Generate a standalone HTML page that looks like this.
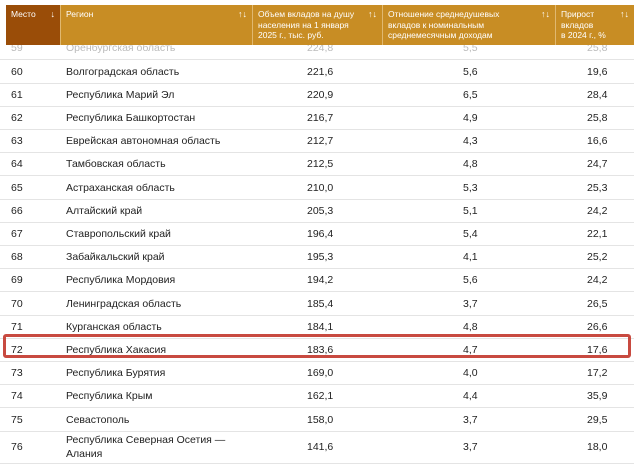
<!DOCTYPE html>
<html><head><meta charset="utf-8"><style>
body{margin:0;width:634px;height:460px;overflow:hidden;background:#fff;font-family:"Liberation Sans",sans-serif;position:relative}
.hdr{position:absolute;top:5px;left:6px;width:628px;height:40px;background:#c88d24;z-index:2}
.hc{position:absolute;top:0;height:40px;color:#fff;font-size:8.5px;line-height:10.5px;padding:4px 0 0 5px;box-sizing:border-box;border-left:1px solid #e0b870}
.hc .ar{position:absolute;right:5px;top:4px;font-size:9px}
.row{position:absolute;left:0;width:634px;height:23.2px;border-bottom:1px solid #e4e4e4;font-size:10.5px;color:#222;box-sizing:border-box}
.row span{position:absolute;top:50%;transform:translateY(-50%)}
.hl{position:absolute;left:3px;top:334px;width:628px;height:24px;border:3px solid #c84a40;border-radius:3px;box-sizing:border-box;z-index:3}
</style></head><body>
<div class="hdr">
 <div class="hc" style="left:0;width:54px;background:#9a4d08;border-left:none">Место<span class="ar">↓</span></div>
 <div class="hc" style="left:54px;width:192px">Регион<span class="ar">↑↓</span></div>
 <div class="hc" style="left:246px;width:130px">Объем вкладов на душу<br>населения на 1 января<br>2025 г., тыс. руб.<span class="ar">↑↓</span></div>
 <div class="hc" style="left:376px;width:173px">Отношение среднедушевых<br>вкладов к номинальным<br>среднемесячным доходам<span class="ar">↑↓</span></div>
 <div class="hc" style="left:549px;width:79px">Прирост<br>вкладов<br>в 2024 г., %<span class="ar">↑↓</span></div>
</div>
<div id="rows"></div>
<div class="hl"></div>
<script>
const ranks=[59,60,61,62,63,64,65,66,67,68,69,70,71,72,73,74,75,76];
const regions=["Оренбургская область","Волгоградская область","Республика Марий Эл","Республика Башкортостан","Еврейская автономная область","Тамбовская область","Астраханская область","Алтайский край","Ставропольский край","Забайкальский край","Республика Мордовия","Ленинградская область","Курганская область","Республика Хакасия","Республика Бурятия","Республика Крым","Севастополь","Республика Северная Осетия —<br>Алания"];
const deposits=["224,8","221,6","220,9","216,7","212,7","212,5","210,0","205,3","196,4","195,3","194,2","185,4","184,1","183,6","169,0","162,1","158,0","141,6"];
const ratios=["5,5","5,6","6,5","4,9","4,3","4,8","5,3","5,1","5,4","4,1","5,6","3,7","4,8","4,7","4,0","4,4","3,7","3,7"];
const growth=["25,8","19,6","28,4","25,8","16,6","24,7","25,3","24,2","22,1","25,2","24,2","26,5","26,6","17,6","17,2","35,9","29,5","18,0"];
const c=document.getElementById('rows');
ranks.forEach((r,i)=>{
 const d=document.createElement('div');
 
 
 d.className='row';
 const top=37.3+i*23.2;
 d.style.top=top+'px';
 if(i===ranks.length-1){d.style.height='32px';}
 if(i===0){d.style.color='#bbb';}
 d.innerHTML='<span style="left:11px">'+r+'</span><span style="left:66px;line-height:14px">'+regions[i]+'</span><span style="left:307px">'+deposits[i]+'</span><span style="left:463px">'+ratios[i]+'</span><span style="left:587px">'+growth[i]+'</span>';
 c.appendChild(d);
});
</script>
</body></html>
